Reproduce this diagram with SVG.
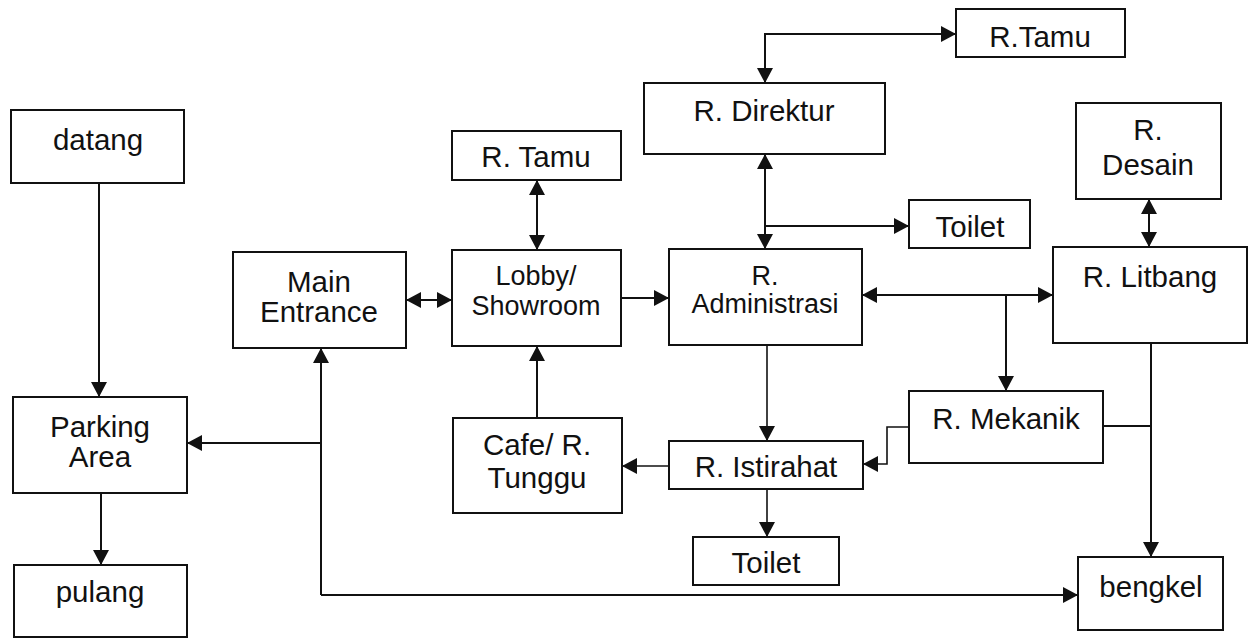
<svg xmlns="http://www.w3.org/2000/svg" width="1253" height="638" viewBox="0 0 1253 638">
<style>
rect{fill:#fff;stroke:#111;stroke-width:2}
text{font-family:"Liberation Sans",Arial,sans-serif;font-size:29.5px;fill:#111;text-anchor:middle}
.s{font-size:27px}
.c path{fill:none;stroke:#111;stroke-width:2}
.c .t{stroke-width:1.6}
</style>
<defs>
<marker id="a" markerUnits="userSpaceOnUse" markerWidth="16" markerHeight="16" refX="15" refY="8" orient="auto-start-reverse" viewBox="0 0 16 16">
<path d="M0,0 L15,8 L0,16 z" fill="#111"/>
</marker>
</defs>
<rect width="1253" height="638" style="stroke:none"/>
<g class="c" id="connectors">
<path d="M99,183 V397" marker-end="url(#a)"/>
<path d="M101,493 V565" marker-end="url(#a)"/>
<path d="M321,595 V348" marker-end="url(#a)"/>
<path d="M321,595 H1078" marker-end="url(#a)"/>
<path d="M321,443 H187" marker-end="url(#a)"/>
<path d="M406,300 H452" marker-start="url(#a)" marker-end="url(#a)"/>
<path d="M537,180 V250" marker-start="url(#a)" marker-end="url(#a)"/>
<path d="M621,298 H669" marker-end="url(#a)"/>
<path d="M537,418 V346" marker-end="url(#a)"/>
<path d="M765,83 V34 H956" marker-start="url(#a)" marker-end="url(#a)"/>
<path d="M765,154 V249" marker-start="url(#a)" marker-end="url(#a)"/>
<path d="M765,226 H909" marker-end="url(#a)"/>
<path d="M862,295 H1053" marker-start="url(#a)" marker-end="url(#a)"/>
<path d="M1006,295 V391" marker-end="url(#a)"/>
<path d="M1149,199 V247" marker-start="url(#a)" marker-end="url(#a)"/>
<path d="M1151,343 V557" marker-end="url(#a)"/>
<path d="M1103,426 H1151"/>
<path class="t" d="M909,427 H887 V464 H863" marker-end="url(#a)"/>
<path class="t" d="M767,345 V441" marker-end="url(#a)"/>
<path class="t" d="M669,466 H622" marker-end="url(#a)"/>
<path class="t" d="M767,489 V537" marker-end="url(#a)"/>
</g>
<g id="datang"><rect x="11" y="110" width="173" height="73"/><text x="98" y="150">datang</text></g>
<g id="parking"><rect x="13" y="397" width="174" height="96"/><text x="100" y="437">Parking</text><text x="100" y="467">Area</text></g>
<g id="pulang"><rect x="14" y="565" width="173" height="72"/><text x="100" y="602">pulang</text></g>
<g id="main-entrance"><rect x="233" y="252" width="173" height="96"/><text x="319" y="292">Main</text><text x="319" y="322">Entrance</text></g>
<g id="r-tamu-1"><rect x="452" y="131" width="169" height="49"/><text x="536" y="167">R. Tamu</text></g>
<g id="lobby"><rect x="452" y="250" width="169" height="96"/><text class="s" x="536" y="285">Lobby/</text><text class="s" x="536" y="315">Showroom</text></g>
<g id="cafe"><rect x="453" y="418" width="169" height="95"/><text x="537" y="455">Cafe/ R.</text><text x="537" y="488">Tunggu</text></g>
<g id="r-direktur"><rect x="644" y="83" width="241" height="71"/><text x="764" y="121">R. Direktur</text></g>
<g id="r-tamu-2"><rect x="956" y="9" width="169" height="48"/><text x="1040" y="47">R.Tamu</text></g>
<g id="toilet-1"><rect x="909" y="200" width="121" height="48"/><text x="970" y="237">Toilet</text></g>
<g id="r-administrasi"><rect x="669" y="249" width="193" height="96"/><text class="s" x="765" y="285">R.</text><text class="s" x="765" y="313">Administrasi</text></g>
<g id="r-istirahat"><rect x="669" y="441" width="194" height="48"/><text x="766" y="477">R. Istirahat</text></g>
<g id="toilet-2"><rect x="693" y="537" width="146" height="48"/><text x="766" y="573">Toilet</text></g>
<g id="r-desain"><rect x="1076" y="103" width="145" height="96"/><text x="1148" y="140">R.</text><text x="1148" y="175">Desain</text></g>
<g id="r-litbang"><rect x="1053" y="247" width="194" height="96"/><text x="1150" y="287">R. Litbang</text></g>
<g id="r-mekanik"><rect x="909" y="391" width="194" height="72"/><text x="1006" y="429">R. Mekanik</text></g>
<g id="bengkel"><rect x="1078" y="557" width="145" height="73"/><text x="1151" y="597">bengkel</text></g>
</svg>
